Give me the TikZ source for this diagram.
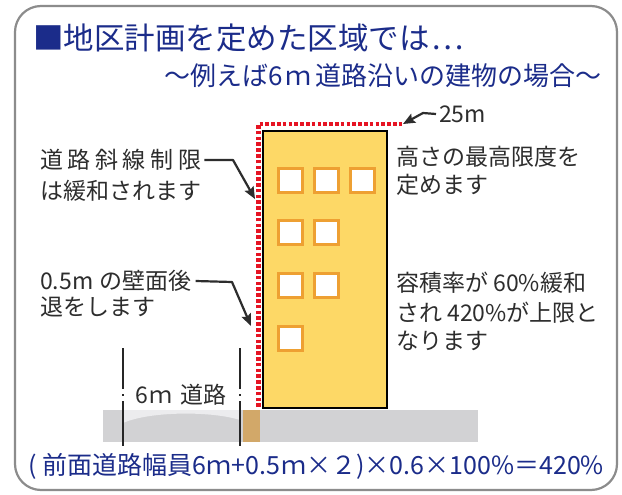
\documentclass[tikz,border=0pt]{standalone}
\usepackage{fontspec}
\setmainfont{Noto Sans CJK JP}
\usetikzlibrary{arrows.meta}
\definecolor{navy}{RGB}{27,44,138}
\definecolor{framegray}{RGB}{140,140,140}
\definecolor{labelgray}{RGB}{45,45,45}
\definecolor{bldgyellow}{RGB}{253,216,102}
\definecolor{winorange}{RGB}{238,160,50}
\definecolor{dotred}{RGB}{230,20,35}
\definecolor{groundgray}{RGB}{210,210,212}
\definecolor{roadtop}{RGB}{236,236,238}
\definecolor{walktan}{RGB}{210,168,105}
\newcommand{\lsp}{\hspace{4.6pt}}
\tikzset{
  heading/.style={anchor=west, inner sep=0pt, text=navy, font=\fontsize{30.5}{30.5}\selectfont},
  subheading/.style={anchor=east, inner sep=0pt, text=navy, font=\fontsize{26}{26}\selectfont},
  note/.style={anchor=west, inner sep=0pt, text=labelgray, font=\fontsize{23}{23}\selectfont},
  formula/.style={inner sep=0pt, text=navy, font=\fontsize{25}{25}\selectfont},
  pointer/.style={draw=labelgray, line width=2.2pt, line join=round,
    -{Stealth[length=12pt, width=10pt, inset=2pt]}},
  window/.style={draw=winorange, line width=3pt, fill=white},
  limitline/.style={draw=dotred, line width=4.6pt, dash pattern=on 3.6pt off 2.2pt},
  roadline/.style={draw=black!85, line width=2pt, dash pattern=on 41pt off 5pt on 2pt off 5pt on 50pt}
}
\begin{document}
\begin{tikzpicture}[x=1pt, y=-1pt]
\useasboundingbox (0,0) rectangle (622,495);
\fill[white] (0,0) rectangle (622,495);

% rounded panel frame
\draw[framegray, line width=2.2pt, rounded corners=26pt] (15,6) rectangle (617,490);

% headings
\node[heading] (title) at (33,38) {■地区計画を定めた区域では\hspace{2pt}…};
\node[subheading] (subtitle) at (602,76) {～例えば6\hspace{3pt}ｍ\hspace{4pt}道路沿いの建物の場合～};

% ground: road with crowned surface, setback strip, site
\fill[groundgray] (103,410) rectangle (478,442);
\fill[roadtop] (123,410) -- (123,423) .. controls (150,411) and (212,411) .. (240,420) -- (240,410) -- cycle;
\fill[walktan] (243,410) rectangle (260,442);

% building
\fill[bldgyellow] (263,131) rectangle (387,408);
\draw[black, line width=2.6pt] (263,131) rectangle (387,408);

% windows
\foreach \cx/\cy in {290/180, 326/180, 362/180, 290/232, 326/232, 290/285, 326/285, 290/338}
  \draw[window] (\cx-12,\cy-12) rectangle (\cx+12,\cy+12);

% height limit and road slant limit envelope
\draw[limitline] (258.3,407) -- (258.3,124) -- (403,124);

% road width marks
\draw[roadline] (123,348) -- (123,446);
\draw[roadline] (240,348) -- (240,446);
\node[note, anchor=center] (road) at (181,395) {6\hspace{2pt}ｍ\hspace{8pt}道路};

% left notes
\node[note] (slantA) at (40,160) {道\lsp 路\lsp 斜\lsp 線\lsp 制\lsp 限};
\node[note] (slantB) at (40,191) {は緩和されます};
\node[note] (setbackA) at (40,281) {0.5m\hspace{6pt}の壁面後};
\node[note] (setbackB) at (40,307) {退をします};

% right notes
\node[note] (height) at (439,114) {25m};
\node[note] (heightA) at (396,157) {高さの最高限度を};
\node[note] (heightB) at (396,185) {定めます};
\node[note] (ratioA) at (396,283) {容積率が 60\%緩和};
\node[note] (ratioB) at (396,313) {され 420\%が上限と};
\node[note] (ratioC) at (396,341) {なります};

% pointers
\coordinate (slantBend) at (233,160);
\coordinate (slantTip) at (255,199);
\coordinate (setbackBend) at (232,282);
\coordinate (setbackTip) at (251,326);
\coordinate (heightBend) at (423,113);
\coordinate (heightTip) at (403,124);
\draw[pointer] ([xshift=3pt]slantA.east) -- (slantBend) -- (slantTip);
\draw[pointer] ([xshift=4pt]setbackA.east) -- (setbackBend) -- (setbackTip);
\draw[pointer] ([xshift=-3pt]height.west) -- (heightBend) -- (heightTip);

% calculation
\node[formula] (calc) at (316,466) {( 前面道路幅員6\hspace{1pt}ｍ+0.5\hspace{1pt}ｍ×２)×0.6×100\%＝420\%};
\end{tikzpicture}
\end{document}
